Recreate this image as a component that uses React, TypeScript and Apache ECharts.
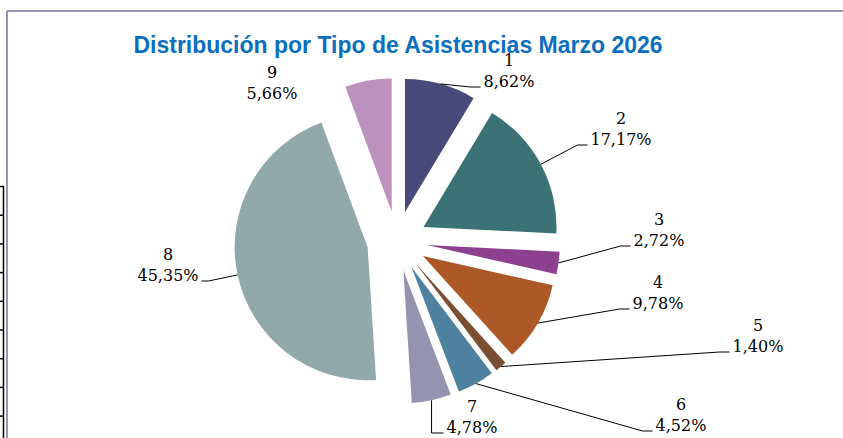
import React, { useEffect, useRef } from 'react';
import * as echarts from 'echarts';

const CATEGORIES = ['1', '2', '3', '4', '5', '6', '7', '8', '9'];
const VALUES = [8.62, 17.17, 2.72, 9.78, 1.4, 4.52, 4.78, 45.35, 5.66];
const COLORS = ['#4A4A7A', '#3B7275', '#8E4090', '#AD5927', '#7A4E33', '#4E80A0', '#9594B0', '#91A9AB', '#BC91BE'];
const TITLE = 'Distribución por Tipo de Asistencias Marzo 2026';

// layout (not data)
const CENTER = [397, 241];
const RADIUS = 133;
const OFFSET = 30;
const LABEL_POS = [
  [509, 71], [621, 129], [659, 230], [658, 293], [758, 336],
  [681, 415], [472, 417], [168, 265], [272, 83],
];
const LEADER = ['right', 'right', 'right', 'right', 'right', 'right', 'below', 'left', 'none'];
const LABEL_FONT = '16px "DejaVu Serif", serif';

function fmt(v: number) {
  return `${v.toFixed(2).replace('.', ',')}%`;
}

export default function App() {
  const ref = useRef<HTMLDivElement>(null);
  useEffect(() => {
    if (!ref.current) return;
    const chart = echarts.init(ref.current, undefined, { renderer: 'svg' });
    const total = VALUES.reduce((a, b) => a + b, 0);
    const ctx = document.createElement('canvas').getContext('2d')!;
    ctx.font = LABEL_FONT;

    const stubs: any[] = [
      { type: 'line', shape: { x1: 3.5, y1: 186, x2: 3.5, y2: 438 }, style: { stroke: '#000', lineWidth: 1.5 } },
    ];
    for (let k = 0; k < 9; k++) {
      const y = 186.5 + k * 28.7;
      stubs.push({ type: 'line', shape: { x1: 0, y1: y, x2: 4, y2: y }, style: { stroke: '#000', lineWidth: 1.5 } });
    }

    const labels: any[] = [];
    let before = 0;
    VALUES.forEach((v, i) => {
      const [lx, ly] = LABEL_POS[i];
      const text = `${CATEGORIES[i]}\n${fmt(v)}`;
      labels.push({
        type: 'text', x: lx, y: ly, z: 20,
        style: {
          text, fill: '#000', font: LABEL_FONT, fontFamily: '"DejaVu Serif", serif', fontSize: 16,
          lineHeight: 21, align: 'center', verticalAlign: 'middle',
        },
      });
      const theta = ((before + v / 2) / total) * 2 * Math.PI;
      before += v;
      const R = RADIUS + OFFSET;
      const sx = CENTER[0] + R * Math.sin(theta);
      const sy = CENTER[1] - R * Math.cos(theta);
      const w = ctx.measureText(fmt(v)).width;
      const ey = ly + 16;
      let pts: number[][] | null = null;
      if (LEADER[i] === 'right') {
        const ex = lx - w / 2 - 3;
        pts = [[sx, sy], [ex - 10, ey], [ex, ey]];
      } else if (LEADER[i] === 'left') {
        const ex = lx + w / 2 + 3;
        pts = [[sx, sy], [ex + 7, ey], [ex, ey]];
      } else if (LEADER[i] === 'below') {
        const ex = lx - w / 2 - 3;
        pts = [[sx, sy], [sx, ey], [ex, ey]];
      }
      if (pts) {
        labels.push({
          type: 'polyline', z: 15,
          shape: { points: pts },
          style: { stroke: '#000', lineWidth: 1, fill: null },
        });
      }
    });

    const option: any = {
      animation: false,
      backgroundColor: '#ffffff',
      graphic: [
        ...stubs,
        { type: 'line', shape: { x1: 7, y1: 11, x2: 843, y2: 11 }, style: { stroke: '#9696B8', lineWidth: 2 } },
        { type: 'line', shape: { x1: 7, y1: 11, x2: 7, y2: 438 }, style: { stroke: '#9696B8', lineWidth: 2 } },
        {
          type: 'text', x: 398, y: 45, z: 10,
          style: {
            text: TITLE, fill: '#0A6FC0', fontFamily: '"Liberation Sans", Arial, sans-serif',
            fontWeight: 'bold', fontSize: 23, lineHeight: 23, align: 'center', verticalAlign: 'middle',
          },
        },
        ...labels,
      ],
      series: [
        {
          type: 'pie',
          center: CENTER,
          radius: RADIUS,
          startAngle: 90,
          clockwise: true,
          selectedMode: 'multiple',
          selectedOffset: OFFSET,
          avoidLabelOverlap: false,
          emphasis: { disabled: true },
          label: { show: false },
          labelLine: { show: false },
          data: CATEGORIES.map((c, i) => ({
            name: c,
            value: VALUES[i],
            selected: true,
            itemStyle: { color: COLORS[i] },
          })),
        },
      ],
    };
    chart.setOption(option);
    return () => chart.dispose();
  }, []);
  return <div ref={ref} style={{ position: 'absolute', left: 0, top: 0, width: 843, height: 438 }} />;
}
